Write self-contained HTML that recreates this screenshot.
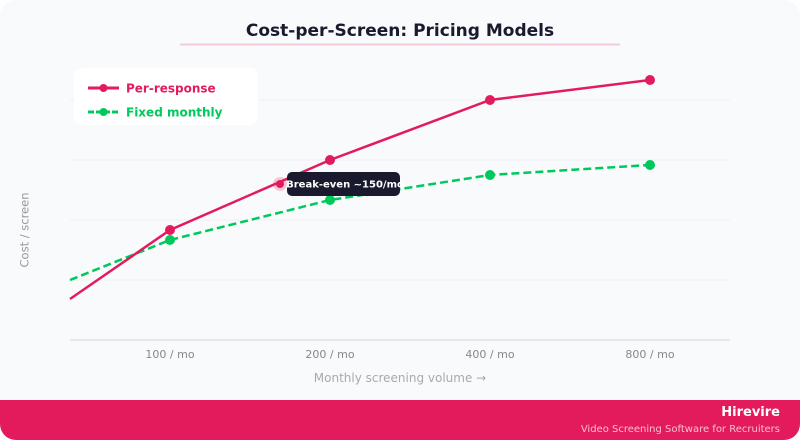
<!DOCTYPE html>
<html>
<head>
<meta charset="utf-8">
<style>
html,body{margin:0;padding:0;background:#ffffff;}
body{width:800px;height:440px;overflow:hidden;}
svg{display:block;}
text{font-family:"DejaVu Sans","Liberation Sans",sans-serif;}
</style>
</head>
<body>
<svg width="800" height="440" viewBox="0 0 800 440" xmlns="http://www.w3.org/2000/svg">
  <defs>
    <clipPath id="card"><rect x="0" y="0" width="800" height="440" rx="16" ry="16"/></clipPath>
  </defs>
  <g clip-path="url(#card)">
    <rect x="0" y="0" width="800" height="440" fill="#f8fafc"/>
    <rect x="0" y="400" width="800" height="40" fill="#e31b5c"/>
  </g>

  <text x="400" y="36" text-anchor="middle" font-size="17" font-weight="bold" fill="#1a1a2e">Cost-per-Screen: Pricing Models</text>
  <rect x="180" y="43.5" width="440" height="2" fill="#f5c9d7"/>

  <g stroke="#eef0f3" stroke-width="1">
    <line x1="70" y1="100" x2="730" y2="100"/>
    <line x1="70" y1="160" x2="730" y2="160"/>
    <line x1="70" y1="220" x2="730" y2="220"/>
    <line x1="70" y1="280" x2="730" y2="280"/>
  </g>
  <line x1="70" y1="340" x2="730" y2="340" stroke="#e5e7eb" stroke-width="2"/>

  <g font-size="11" fill="#888" text-anchor="middle">
    <text x="170" y="358">100 / mo</text>
    <text x="330" y="358">200 / mo</text>
    <text x="490" y="358">400 / mo</text>
    <text x="650" y="358">800 / mo</text>
  </g>
  <text x="400" y="382" text-anchor="middle" font-size="12" fill="#aaaaaa">Monthly screening volume →</text>
  <text transform="translate(28.5,230) rotate(-90)" text-anchor="middle" font-size="11.5" fill="#999">Cost / screen</text>

  <polyline points="70,280 170,240 330,200 490,175 650,165" fill="none" stroke="#00c95c" stroke-width="2.5" stroke-dasharray="8,4"/>
  <g fill="#00c95c">
    <circle cx="170" cy="240" r="5"/>
    <circle cx="330" cy="200" r="5"/>
    <circle cx="490" cy="175" r="5"/>
    <circle cx="650" cy="165" r="5"/>
  </g>

  <polyline points="70,299 170,230 330,160 490,100 650,80" fill="none" stroke="#e31b5c" stroke-width="2.5"/>
  <g fill="#e31b5c">
    <circle cx="170" cy="230" r="5"/>
    <circle cx="330" cy="160" r="5"/>
    <circle cx="490" cy="100" r="5"/>
    <circle cx="650" cy="80" r="5"/>
  </g>

  <circle cx="280" cy="184" r="7" fill="#e31b5c" fill-opacity="0.22"/>
  <circle cx="280" cy="184" r="4" fill="#e31b5c"/>
  <rect x="287" y="172" width="113" height="24" rx="5" ry="5" fill="#1a1a2e"/>
  <text x="345" y="187.5" text-anchor="middle" font-size="10" font-weight="bold" fill="#ffffff">Break-even ~150/mo</text>

  <rect x="74" y="68" width="184" height="57" rx="8" ry="8" fill="#ffffff"/>
  <line x1="88" y1="88" x2="119" y2="88" stroke="#e31b5c" stroke-width="3"/>
  <circle cx="103.5" cy="88" r="4" fill="#e31b5c"/>
  <text x="126" y="92.5" font-size="12" font-weight="bold" fill="#e31b5c">Per-response</text>
  <line x1="88" y1="112" x2="119" y2="112" stroke="#00c95c" stroke-width="3" stroke-dasharray="6,2"/>
  <circle cx="103.5" cy="112" r="4" fill="#00c95c"/>
  <text x="126" y="116.5" font-size="12" font-weight="bold" fill="#00c95c">Fixed monthly</text>

  <text x="780" y="416" text-anchor="end" font-size="13" font-weight="bold" fill="#ffffff">Hirevire</text>
  <text x="780" y="432" text-anchor="end" font-size="10" fill="#ffffff" fill-opacity="0.72">Video Screening Software for Recruiters</text>
</svg>
</body>
</html>
